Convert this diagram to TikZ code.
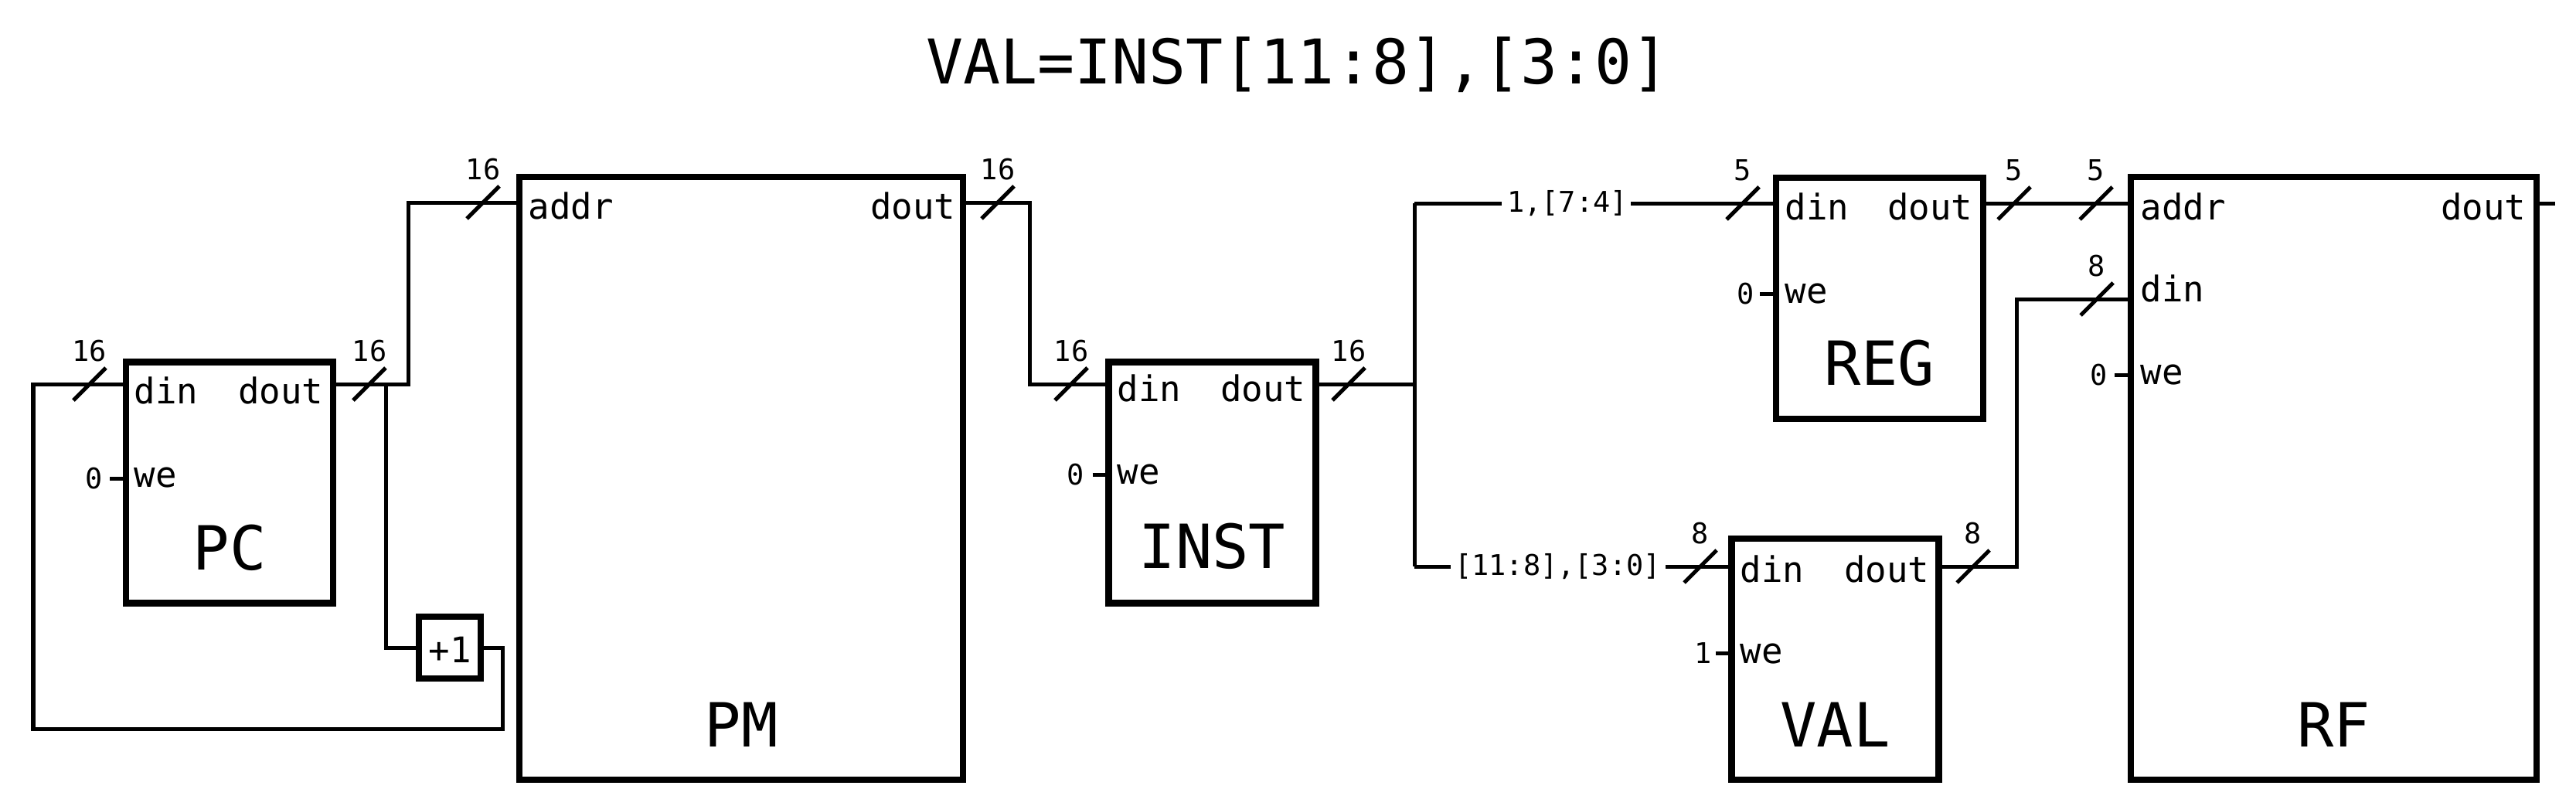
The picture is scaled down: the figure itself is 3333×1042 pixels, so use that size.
\documentclass[tikz,border=0pt]{standalone}
\usepackage{fontspec}
\setmainfont{DejaVu Sans Mono}
\usetikzlibrary{calc}
\begin{document}
\begin{tikzpicture}[x=0.01cm,y=-0.01cm,
  blk/.style={draw, line width=0.085cm, inner sep=0pt, minimum width=2.68cm, minimum height=3.12cm},
  wire/.style={line width=0.05cm, line join=miter},
  lbl/.style={inner sep=0pt, font=\fontsize{10.5}{12}\selectfont, anchor=base},
  prt/.style={inner sep=0pt, font=\fontsize{13}{15}\selectfont},
  big/.style={inner sep=0pt, font=\fontsize{22.4}{26}\selectfont, anchor=base},
  pics/bw/.style={code={\draw[wire] (-21,21) -- (21,-21); \node[lbl] (-t) at (0,-30) {#1};}}
]
\fill[white] (0,0) rectangle (3333,1042);
\useasboundingbox (0,0) rectangle (3333,1042);

% title
\node[big, font=\fontsize{22.7}{26}\selectfont] (title) at (1679,108) {VAL=INST[11:8],[3:0]};

% blocks
\node[blk] (pc) at (297,624.5) {};
\node[blk, minimum width=0.8cm, minimum height=0.8cm] (inc) at (582,838) {};
\node[blk, minimum width=5.74cm, minimum height=7.8cm] (pm) at (959,619) {};
\node[blk] (inst) at (1568.5,624.5) {};
\node[blk] (reg) at (2432,386) {};
\node[blk] (val) at (2374.5,853) {};
\node[blk, minimum width=5.25cm, minimum height=7.8cm] (rf) at (3019.5,619) {};

% block names
\node[big] (pc-n) at (297,737) {PC};
\node[prt, anchor=base] (inc-t) at (582,857) {+1};
\node[big] (pm-n) at (959,966) {PM};
\node[big] (inst-n) at (1568.5,735) {INST};
\node[big] (reg-n) at (2432,498) {REG};
\node[big] (val-n) at (2374.5,966) {VAL};
\node[big] (rf-n) at (3019.5,966) {RF};

% port labels
\node[prt, anchor=base west] (pc-a) at (173,522) {din};
\node[prt, anchor=base east] (pc-b) at (419,522) {dout};
\node[prt, anchor=base west] (pc-c) at (173,630) {we};
\node[lbl] (pc-0) at (122,632) {0};

\node[prt, anchor=base west] (pm-a) at (683,283) {addr};
\node[prt, anchor=base east] (pm-b) at (1237,283) {dout};

\node[prt, anchor=base west] (inst-a) at (1445,519) {din};
\node[prt, anchor=base east] (inst-b) at (1690,519) {dout};
\node[prt, anchor=base west] (inst-c) at (1445,626) {we};
\node[lbl] (inst-0) at (1392,627) {0};

\node[prt, anchor=base west] (reg-a) at (2309,284) {din};
\node[prt, anchor=base east] (reg-b) at (2553,284) {dout};
\node[prt, anchor=base west] (reg-c) at (2309,392) {we};
\node[lbl] (reg-0) at (2259,393) {0};

\node[prt, anchor=base west] (val-a) at (2251,753) {din};
\node[prt, anchor=base east] (val-b) at (2497,753) {dout};
\node[prt, anchor=base west] (val-c) at (2251,858) {we};
\node[lbl] (val-1) at (2204,858) {1};

\node[prt, anchor=base west] (rf-a) at (2769,284) {addr};
\node[prt, anchor=base east] (rf-b) at (3269,284) {dout};
\node[prt, anchor=base west] (rf-c) at (2769,390) {din};
\node[prt, anchor=base west] (rf-d) at (2769,497) {we};
\node[lbl] (rf-0) at (2716,498) {0};

% bus split labels
\node[lbl] (top-lab) at (2028,274) {1,[7:4]};
\node[lbl] (bot-lab) at (2015.5,744) {[11:8],[3:0]};

% port coordinates
\coordinate (pc-din) at (163,497);
\coordinate (pc-dout) at (431,497);
\coordinate (pc-we) at (163,619);
\coordinate (inc-in) at (542,838);
\coordinate (inc-out) at (622,838);
\coordinate (pm-addr) at (672,262);
\coordinate (pm-dout) at (1246,262);
\coordinate (inst-din) at (1434.5,497);
\coordinate (inst-dout) at (1702.5,497);
\coordinate (inst-we) at (1434.5,614);
\coordinate (reg-din) at (2298,263);
\coordinate (reg-dout) at (2566,263);
\coordinate (reg-we) at (2298,380);
\coordinate (val-din) at (2240.5,733);
\coordinate (val-dout) at (2508.5,733);
\coordinate (val-we) at (2240.5,845);
\coordinate (rf-addr) at (2757,263);
\coordinate (rf-din) at (2757,387);
\coordinate (rf-we) at (2757,485);
\coordinate (rf-dout) at (3282,263);
\coordinate (rf-end) at (3306,263);
\coordinate (tap) at (499,497);
\coordinate (split) at (1830,497);
\coordinate (split-top) at (1830,263);
\coordinate (split-bot) at (1830,733);
\coordinate (top-l) at (1943,263);
\coordinate (top-r) at (2110,263);
\coordinate (bot-l) at (1877,733);
\coordinate (bot-r) at (2155,733);

% wires
\draw[wire] (inc-out) -| (650,943) -| (43,497) -- (pc-din);
\draw[wire] (pc-dout) -- (528,497) |- (pm-addr);
\draw[wire] (tap) |- (inc-in);
\draw[wire] (pm-dout) -- (1332,262) |- (inst-din);
\draw[wire] (inst-dout) -- (split);
\draw[wire] (split-top) -- (split-bot);
\draw[wire] (split-top) -- (top-l);
\draw[wire] (top-r) -- (reg-din);
\draw[wire] (split-bot) -- (bot-l);
\draw[wire] (bot-r) -- (val-din);
\draw[wire] (reg-dout) -- (rf-addr);
\draw[wire] (val-dout) -- (2609,733) |- (rf-din);
\draw[wire] (rf-dout) -- (rf-end);

% write-enable stubs
\draw[wire] ($(pc-we)+(-21,0)$) -- (pc-we);
\draw[wire] ($(inst-we)+(-21,0)$) -- (inst-we);
\draw[wire] ($(reg-we)+(-21,0)$) -- (reg-we);
\draw[wire] ($(val-we)+(-21,0)$) -- (val-we);
\draw[wire] ($(rf-we)+(-21,0)$) -- (rf-we);

% bus width marks
\pic (w1) at (116,497) {bw=16};
\pic (w2) at (478,497) {bw=16};
\pic (w3) at (625,262) {bw=16};
\pic (w4) at (1291,262) {bw=16};
\pic (w5) at (1386,497) {bw=16};
\pic (w6) at (1745,497) {bw=16};
\pic (w7) at (2255,263) {bw=5};
\pic (w8) at (2606,263) {bw=5};
\pic (w9) at (2712,263) {bw=5};
\pic (w10) at (2200,733) {bw=8};
\pic (w11) at (2553,733) {bw=8};
\pic (w12) at (2713,387) {bw=8};
\end{tikzpicture}
\end{document}
